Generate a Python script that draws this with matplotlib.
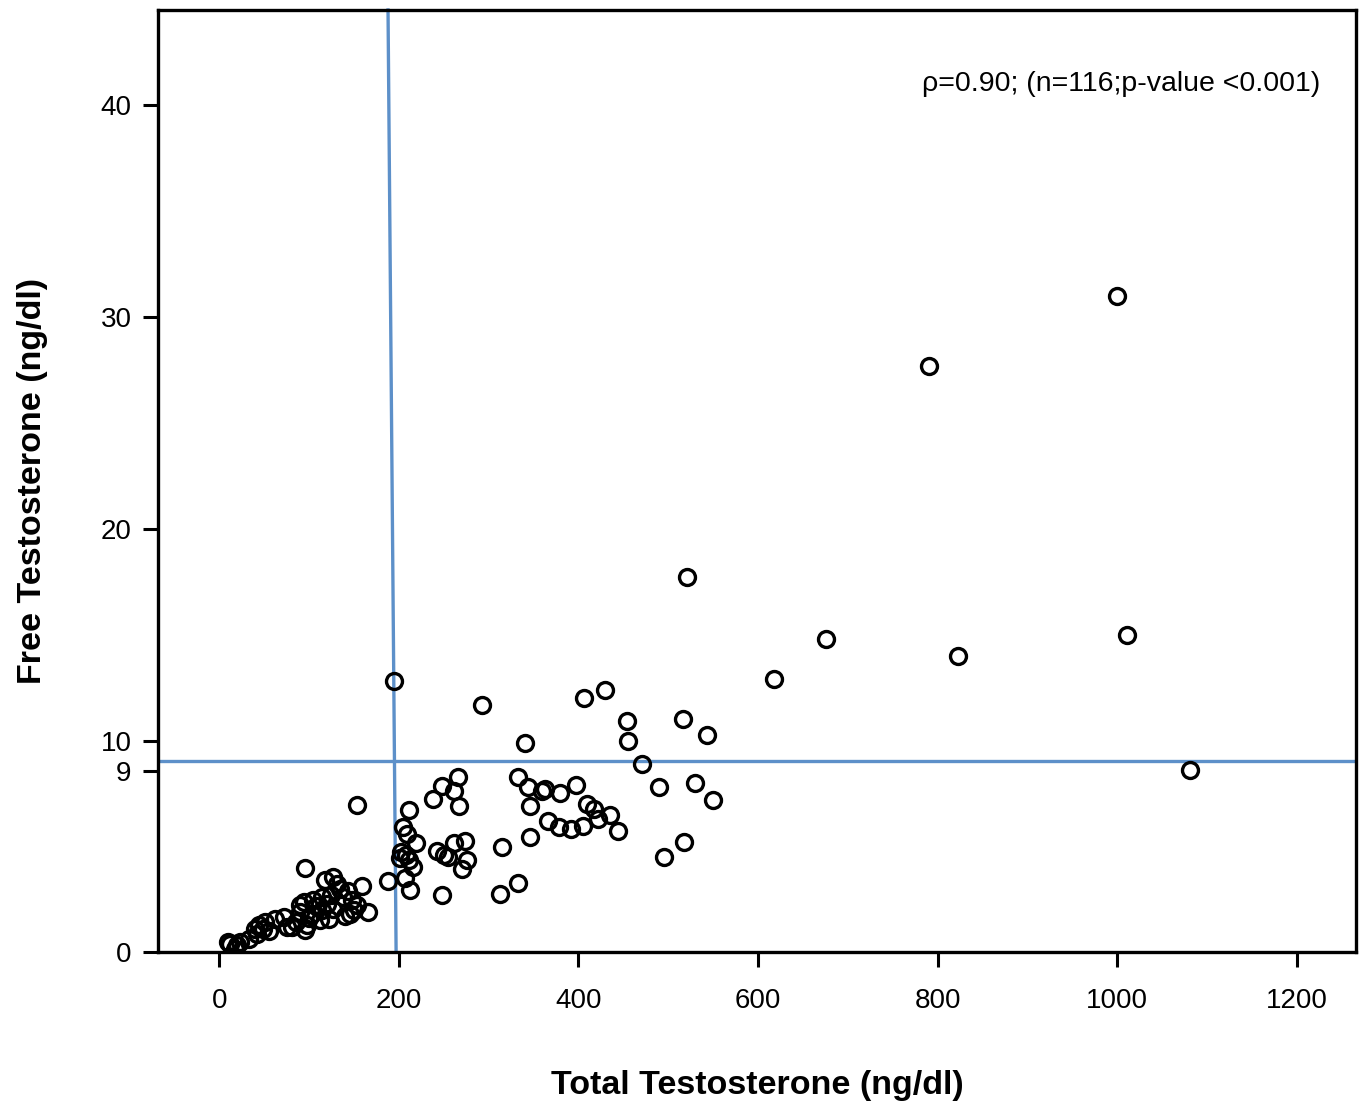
import matplotlib
matplotlib.use("Agg")
import matplotlib.pyplot as plt

plt.rcParams['font.family'] = ['Liberation Sans', 'DejaVu Sans']

# Total testosterone (ng/dl)
total_t = [
    1000, 790, 521, 676, 1011, 823, 618, 195, 430, 406, 293, 454, 516, 455, 543, 341,
    471, 1081, 530, 490, 550, 517, 495,
    333, 344, 359, 363, 380, 397, 346, 410, 417, 422, 435, 444, 366, 378, 392, 405,
    346, 315, 333, 313,
    266, 248, 238, 262, 267, 242, 250, 255, 261, 274, 276, 270, 248, 154,
    211, 205, 209, 219, 203, 208, 211, 216, 201, 207, 212, 188,
    96, 118, 127, 131, 159, 166,
    94, 105, 114, 124, 138, 148, 153, 90, 103, 114, 127, 146, 85, 98, 112, 122, 75, 96,
    12, 18, 23, 10, 20, 33, 42, 44, 49, 51, 40, 62, 72, 81, 90,
    135, 143, 150, 140, 108, 120, 100, 55,
]
# Free testosterone (ng/dl)
free_t = [
    31.0, 27.7, 17.7, 14.8, 15.0, 14.0, 12.9, 12.8, 12.4, 12.0, 11.7, 10.9, 11.0, 10.0, 10.25, 9.9,
    8.9, 8.6, 8.0, 7.8, 7.2, 5.2, 4.5,
    8.3, 7.8, 7.6, 7.7, 7.5, 7.9, 6.9, 7.0, 6.75, 6.3, 6.5, 5.75, 6.2, 5.9, 5.8, 5.95,
    5.45, 4.95, 3.27, 2.77,
    8.3, 7.85, 7.25, 7.6, 6.9, 4.8, 4.6, 4.5, 5.15, 5.25, 4.35, 3.95, 2.7, 6.95,
    6.7, 5.9, 5.6, 5.15, 4.75, 4.6, 4.35, 4.05, 4.45, 3.5, 2.95, 3.35,
    4.0, 3.4, 3.56, 3.24, 3.12, 1.9,
    2.38, 2.46, 2.61, 2.69, 2.61, 2.46, 2.22, 1.9, 1.82, 1.98, 2.06, 1.82, 1.43, 1.28, 1.51, 1.59, 1.2, 1.04,
    0.41, 0.17, 0.49, 0.49, 0.33, 0.65, 0.88, 1.28, 1.12, 1.43, 1.12, 1.59, 1.67, 1.2, 2.22,
    3.0, 2.9, 2.0, 1.7, 2.2, 2.3, 1.6, 1.0,
]

x_ticks = [0, 200, 400, 600, 800, 1000, 1200]
y_ticks = [0, 8.55, 10, 20, 30, 40]
y_tick_labels = ['0', '9', '10', '20', '30', '40']

cutoff_free = 9.05
cutoff_total_top = 188
cutoff_total_bottom = 197

fig = plt.figure(figsize=(13.63, 11.06), dpi=100)
ax = fig.add_axes([0.116, 0.139, 0.879, 0.852])

xmin, xmax = -68, 1266
ymin, ymax = 0, 44.5
ax.set_xlim(xmin, xmax)
ax.set_ylim(ymin, ymax)

blue = '#5D90C9'
ax.axhline(cutoff_free, color=blue, lw=2.4, zorder=2)
ax.plot([cutoff_total_top, cutoff_total_bottom], [ymax, ymin], color=blue, lw=2.4, zorder=2,
        clip_on=False)

ax.plot(total_t, free_t, linestyle='none', marker='o', markersize=11.5,
        markerfacecolor='none', markeredgecolor='black', markeredgewidth=2.4, zorder=3)

ax.set_xticks(x_ticks)
ax.set_yticks(y_ticks)
ax.set_yticklabels(y_tick_labels)
ax.tick_params(axis='both', direction='out', length=11, width=2.2, labelsize=20)
ax.tick_params(axis='x', pad=15)
ax.tick_params(axis='y', pad=8)

for s in ax.spines.values():
    s.set_linewidth(2.4)

ax.set_xlabel('Total Testosterone (ng/dl)', fontsize=24.5, fontweight='bold', labelpad=40)
ax.set_ylabel('Free Testosterone (ng/dl)', fontsize=24.5, fontweight='bold', labelpad=38)

ax.text(0.97, 0.921, 'ρ=0.90; (n=116;p-value <0.001)', transform=ax.transAxes,
        ha='right', va='center', fontsize=20.5)

fig.savefig('out.png', dpi=100)
